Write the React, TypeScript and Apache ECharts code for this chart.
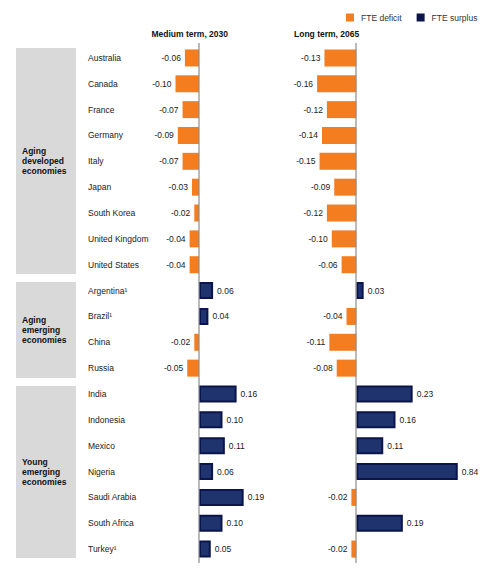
import React, { useEffect, useRef } from "react";
import * as echarts from "echarts";

const countries = [
  "Australia", "Canada", "France", "Germany", "Italy", "Japan", "South Korea",
  "United Kingdom", "United States", "Argentina¹", "Brazil¹", "China", "Russia",
  "India", "Indonesia", "Mexico", "Nigeria", "Saudi Arabia", "South Africa", "Turkey¹",
];
const mediumTerm2030 = [
  -0.06, -0.10, -0.07, -0.09, -0.07, -0.03, -0.02, -0.04, -0.04,
  0.06, 0.04, -0.02, -0.05,
  0.16, 0.10, 0.11, 0.06, 0.19, 0.10, 0.05,
];
const longTerm2065 = [
  -0.13, -0.16, -0.12, -0.14, -0.15, -0.09, -0.12, -0.10, -0.06,
  0.03, -0.04, -0.11, -0.08,
  0.23, 0.16, 0.11, 0.84, -0.02, 0.19, -0.02,
];
const groupLabels = [
  "Aging\ndeveloped\neconomies",
  "Aging\nemerging\neconomies",
  "Young\nemerging\neconomies",
];
const panelTitles = ["Medium term, 2030", "Long term, 2065"];
const seriesNames = ["FTE deficit", "FTE surplus"];

const FONT = "'Liberation Sans', Arial, Helvetica, sans-serif";
const ORANGE = "#f47d20";
const NAVY_FILL = "#1f336f";
const NAVY_EDGE = "#0b154a";

export default function App() {
  const ref = useRef<HTMLDivElement>(null);
  useEffect(() => {
    if (!ref.current) return;
    const chart = echarts.init(ref.current, null, { renderer: "svg" });
    const fmt = (p: any) => Number(p.value).toFixed(2);
    const mk = (vals: number[], idx: number) => {
      const deficit = vals.map((v) => (v < 0 ? v : "-"));
      const surplus = vals.map((v) => (v >= 0 ? v : "-"));
      return [
        {
          name: seriesNames[0],
          type: "bar",
          xAxisIndex: idx,
          yAxisIndex: idx,
          stack: "s" + idx,
          barWidth: 17,
          data: deficit,
          itemStyle: { color: ORANGE },
          label: {
            show: true, position: "left", distance: 4, formatter: fmt,
            fontFamily: FONT, fontSize: 8.5, color: "#1a1a1a",
          },
        },
        {
          name: seriesNames[1],
          type: "bar",
          xAxisIndex: idx,
          yAxisIndex: idx,
          stack: "s" + idx,
          barWidth: 16,
          data: surplus,
          itemStyle: { color: NAVY_FILL, borderColor: NAVY_EDGE, borderWidth: 2 },
          label: {
            show: true, position: "right", distance: 4, formatter: fmt,
            fontFamily: FONT, fontSize: 8.5, color: "#1a1a1a",
          },
        },
      ];
    };
    const boxes = [
      { y: 48, h: 226 },
      { y: 282, h: 96 },
      { y: 386, h: 172 },
    ];
    const baseGraphic: any[] = [
      ...boxes.map((b) => ({
        type: "rect", z: -10, shape: { x: 16, y: b.y, width: 60, height: b.h },
        style: { fill: "#d9d9d9" },
      })),
      ...groupLabels.map((t, i) => ({
        type: "text", x: 22, y: boxes[i].y + boxes[i].h / 2,
        style: {
          text: t, font: `bold 8.5px ${FONT}`, fill: "#111",
          lineHeight: 10, verticalAlign: "middle",
        },
      })),
      {
        type: "text", x: 151.5, y: 34,
        style: { text: panelTitles[0], font: `bold 8.5px ${FONT}`, fill: "#111", verticalAlign: "middle" },
      },
      {
        type: "text", x: 294, y: 34,
        style: { text: panelTitles[1], font: `bold 8.5px ${FONT}`, fill: "#111", verticalAlign: "middle" },
      },
    ];
    chart.setOption({
      animation: false,
      textStyle: { fontFamily: FONT },
      legend: {
        left: 341,
        top: 8,
        itemWidth: 8,
        itemHeight: 8,
        itemGap: 15,
        icon: "rect",
        textStyle: { fontFamily: FONT, fontSize: 8.5, color: "#333", padding: [0, 0, 0, 2] },
        data: [
          { name: seriesNames[0], itemStyle: { color: ORANGE, borderWidth: 0 } },
          { name: seriesNames[1], itemStyle: { color: NAVY_EDGE, borderWidth: 0 } },
        ],
      },
      grid: [
        { left: 152, top: 45, width: 105.75, height: 517 },
        { left: 307.3, top: 45, width: 149.45, height: 517 },
      ],
      xAxis: [
        { type: "value", gridIndex: 0, min: -0.2, max: 0.25, show: false },
        { type: "value", gridIndex: 1, min: -0.2, max: 0.41, show: false },
      ],
      yAxis: [
        {
          type: "category", gridIndex: 0, data: countries, inverse: true,
          axisLine: { show: false, onZero: false }, axisTick: { show: false },
          axisLabel: {
            align: "left", margin: 64, fontFamily: FONT, fontSize: 8.5, color: "#1a1a1a",
          },
        },
        {
          type: "category", gridIndex: 1, data: countries, inverse: true,
          axisLine: { show: false, onZero: false }, axisTick: { show: false },
          axisLabel: { show: false },
        },
      ],
      graphic: baseGraphic,
      series: [...mk(mediumTerm2030, 0), ...mk(longTerm2065, 1)],
    });
    // zero lines, placed through the library's own x scales
    const xs = [0, 1].map((i) => Number(chart.convertToPixel({ xAxisIndex: i } as any, 0)));
    const zeroLines = xs.map((px) => ({
      type: "rect", z: 100,
      shape: { x: Math.round(px) - 0.6, y: 43, width: 1.2, height: 520 },
      style: { fill: "#8c8c8c" },
    }));
    chart.setOption({ graphic: [...baseGraphic, ...zeroLines] }, { replaceMerge: ["graphic"] });
    return () => chart.dispose();
  }, []);
  return (
    <div
      ref={ref}
      style={{ position: "fixed", left: 0, top: 0, width: 492, height: 569, background: "#fff" }}
    />
  );
}
